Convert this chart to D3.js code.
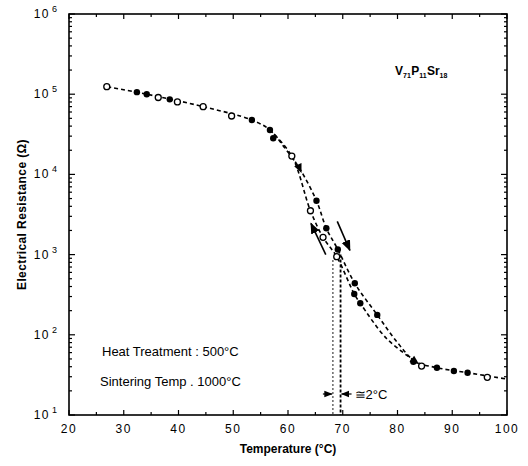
<!DOCTYPE html>
<html><head><meta charset="utf-8">
<script src="https://cdn.jsdelivr.net/npm/d3@7/dist/d3.min.js"></script>
<style>
body{margin:0;background:#fff;}
text{font-family:"Liberation Sans",Arial,sans-serif;fill:#000;}
</style></head>
<body><svg id="c" width="528" height="466"></svg>
<script>
// ---- data ----
const xTicks = [20,30,40,50,60,70,80,90,100];
const yDecades = [1,2,3,4,5,6];
// heating curve (right branch, full range) line nodes
const heatLineT = [27,34.2,44.5,53.4,56.7,59.5,62.1,65.2,67.0,69.1,72.2,76.3,80,83.2,87.2,92.8,100];
const heatLineR = [1.24e5,1.0e5,7.0e4,4.76e4,3.58e4,2.1e4,1.19e4,4.7e3,2.13e3,1.16e3,439,177,80,46.8,38.9,33.7,28];
// cooling curve (left branch, where it separates) line nodes
const coolLineT = [56.7,60.7,64.1,66.4,68.9,72.1,73.2,78,83.2];
const coolLineR = [3.58e4,1.69e4,3.52e3,1.64e3,942,323,247,90,46.8];
// filled markers
const filledT = [32.4,34.2,38.4,53.4,56.7,57.3,65.2,67.0,69.1,72.2,72.1,73.2,76.3,82.9,87.2,90.3,92.8];
const filledR = [1.06e5,1.0e5,8.63e4,4.76e4,3.58e4,2.82e4,4.7e3,2.13e3,1.16e3,439,323,247,177,46.2,38.9,35.4,33.7];
// open markers
const openT = [26.9,36.3,39.8,44.5,49.7,60.7,64.1,66.4,68.9,84.4,96.4];
const openR = [1.24e5,9.1e4,8.0e4,6.98e4,5.35e4,1.69e4,3.52e3,1.64e3,942,40.8,29.5];
// direction arrowheads on curve
const arrowT = [62.1,83.2];
const arrowR = [1.19e4,46.8];
// tangent direction arrows beside the transition
const tanFromT = [66.9,69.0], tanFromR = [1000,2600];
const tanToT = [64.2,71.3], tanToR = [2450,1130];
// transition temperature lines
const transT = [68.2,69.6];
const transTopR = [850,1000];

// ---- layout ----
const L=69,R=507,T=14,B=415;
const svg=d3.select("#c");
const x=d3.scaleLinear().domain([20,100]).range([L,R]);
const y=d3.scaleLog().domain([10,1e6]).range([B,T]);

const defs=svg.append("defs");
defs.append("marker").attr("id","ah").attr("viewBox","0 0 10 10").attr("refX",9).attr("refY",5)
 .attr("markerWidth",7).attr("markerHeight",7).attr("orient","auto")
 .append("path").attr("d","M0,1 L10,5 L0,9 Z").attr("fill","#000");

// frame
svg.append("rect").attr("x",L).attr("y",T).attr("width",R-L).attr("height",B-T)
 .attr("fill","none").attr("stroke","#000").attr("stroke-width",1.6);

// ticks
const yMinor=[];
for(let d=1; d<6; d++) for(let k=2;k<=9;k++) yMinor.push(k*Math.pow(10,d));
const g=svg.append("g").attr("stroke","#000").attr("stroke-width",1.2);
yDecades.forEach(d=>{const v=Math.pow(10,d);
 g.append("line").attr("x1",L).attr("x2",L+6).attr("y1",y(v)).attr("y2",y(v));
 g.append("line").attr("x1",R).attr("x2",R-6).attr("y1",y(v)).attr("y2",y(v));});
yMinor.forEach(v=>{
 g.append("line").attr("x1",L).attr("x2",L+3).attr("y1",y(v)).attr("y2",y(v));
 g.append("line").attr("x1",R).attr("x2",R-3).attr("y1",y(v)).attr("y2",y(v));});
d3.range(20,101,5).forEach(v=>{
 const len = v%10===0?5:3;
 g.append("line").attr("x1",x(v)).attr("x2",x(v)).attr("y1",B).attr("y2",B-len);
 g.append("line").attr("x1",x(v)).attr("x2",x(v)).attr("y1",T).attr("y2",T+len);});

// tick labels
xTicks.forEach(v=>{
 svg.append("text").attr("x",x(v)).attr("y",B+18).attr("text-anchor","middle")
  .attr("font-size",12).attr("letter-spacing","1.5px").text(v);});
yDecades.forEach(d=>{
 svg.append("text").attr("x",L-19).attr("y",y(Math.pow(10,d))+4).attr("text-anchor","end")
  .attr("font-size",12).attr("letter-spacing","1.5px").text("10");
 svg.append("text").attr("x",L-17).attr("y",y(Math.pow(10,d))-2).attr("font-size",9).text(d);});

// axis titles
svg.append("text").attr("x",(L+R)/2).attr("y",453).attr("text-anchor","middle")
 .attr("font-size",12).attr("font-weight","bold").text("Temperature (°C)");
svg.append("text").attr("transform",`translate(26,${(T+B)/2}) rotate(-90)`).attr("text-anchor","middle")
 .attr("font-size",12).attr("font-weight","bold").attr("letter-spacing","0.4px").text("Electrical Resistance (Ω)");

// transition lines
svg.append("line").attr("x1",x(transT[0])).attr("x2",x(transT[0])).attr("y1",y(transTopR[0])).attr("y2",B)
 .attr("stroke","#000").attr("stroke-width",1.2).attr("stroke-dasharray","1.5,2.5");
svg.append("line").attr("x1",x(transT[1])).attr("x2",x(transT[1])).attr("y1",y(transTopR[1])).attr("y2",B)
 .attr("stroke","#000").attr("stroke-width",1.8).attr("stroke-dasharray","3,2");

// curves
const line=d3.line().x(d=>x(d[0])).y(d=>y(d[1])).curve(d3.curveCatmullRom.alpha(0.5));
svg.append("path").datum(heatLineT.map((t,i)=>[t,heatLineR[i]])).attr("d",line)
 .attr("fill","none").attr("stroke","#000").attr("stroke-width",1.6).attr("stroke-dasharray","4,3");
svg.append("path").datum(coolLineT.map((t,i)=>[t,coolLineR[i]])).attr("d",line)
 .attr("fill","none").attr("stroke","#000").attr("stroke-width",1.6).attr("stroke-dasharray","4,3");

// markers
svg.append("g").selectAll("circle").data(filledT.map((t,i)=>[t,filledR[i]])).join("circle")
 .attr("cx",d=>x(d[0])).attr("cy",d=>y(d[1])).attr("r",3.2).attr("fill","#000");
svg.append("g").selectAll("circle").data(openT.map((t,i)=>[t,openR[i]])).join("circle")
 .attr("cx",d=>x(d[0])).attr("cy",d=>y(d[1])).attr("r",3).attr("fill","#fff").attr("stroke","#000").attr("stroke-width",1.3);

// arrowheads along the heating curve
arrowT.forEach((t,i)=>{
 const px=x(t), py=y(arrowR[i]);
 const px2=x(t-0.6), py2=y(Math.pow(10,Math.log10(arrowR[i])+ (i===0?0.09:0.03)));
 const ang=Math.atan2(py-py2,px-px2)*180/Math.PI;
 svg.append("path").attr("d","M5,0 L-4,-4 L-4,4 Z").attr("fill","#000")
  .attr("transform",`translate(${px},${py}) rotate(${ang})`);});

// tangent arrows
tanFromT.forEach((t,i)=>{
 svg.append("line").attr("x1",x(t)).attr("y1",y(tanFromR[i])).attr("x2",x(tanToT[i])).attr("y2",y(tanToR[i]))
  .attr("stroke","#000").attr("stroke-width",1.6).attr("marker-end","url(#ah)");});

// ≅2°C annotation
const ay=394;
svg.append("line").attr("x1",x(transT[0])-10).attr("x2",x(transT[0])-1).attr("y1",ay).attr("y2",ay)
 .attr("stroke","#000").attr("stroke-width",1.2).attr("marker-end","url(#ah)");
svg.append("line").attr("x1",x(transT[1])+11).attr("x2",x(transT[1])+1).attr("y1",ay).attr("y2",ay)
 .attr("stroke","#000").attr("stroke-width",1.2).attr("marker-end","url(#ah)");
svg.append("text").attr("x",x(transT[1])+14).attr("y",ay+5).attr("font-size",13).text("≅2°C");

// annotations
svg.append("text").attr("x",102).attr("y",356).attr("font-size",13).text("Heat Treatment : 500°C");
svg.append("text").attr("x",100).attr("y",386).attr("font-size",13).text("Sintering Temp . 1000°C");

// composition label
const comp=svg.append("text").attr("x",395).attr("y",75).attr("font-size",12).attr("font-weight","bold");
[["V","71"],["P","11"],["Sr","18"]].forEach(([el,n])=>{
 comp.append("tspan").text(el).attr("dy",0);
 comp.append("tspan").text(n).attr("font-size",7).attr("dy",3);
 comp.append("tspan").text("\u200A").attr("dy",-3).attr("font-size",4);
});
</script></body></html>
